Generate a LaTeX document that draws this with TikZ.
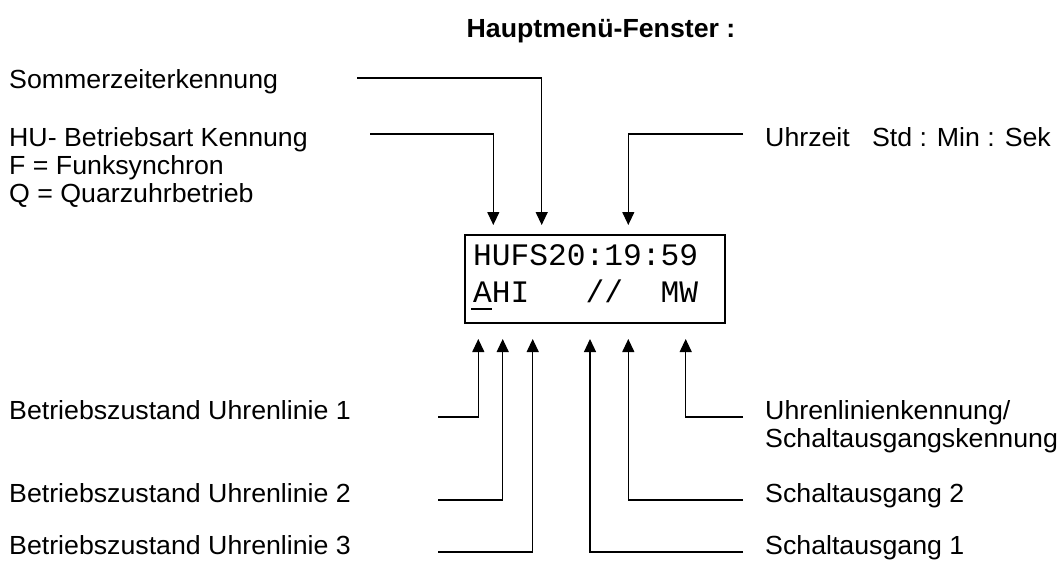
\documentclass[tikz,border=0pt]{standalone}
\usepackage{fontspec}
\setmainfont[FakeStretch=1.02]{Liberation Sans}
\newfontfamily\dispfont{Liberation Mono}
\usetikzlibrary{arrows.meta}
\begin{document}
\begin{tikzpicture}[x=1pt,y=-1pt,
  lbl/.style={anchor=base west,inner sep=0pt,font=\fontsize{26.2}{29}\selectfont},
  ttl/.style={anchor=base,inner sep=0pt,font=\fontsize{26.2}{29}\selectfont\bfseries},
  disptext/.style={anchor=base west,inner sep=0pt,font=\dispfont\fontsize{31.25}{37}\selectfont},
  conn/.style={line width=1.2pt,-{Triangle[width=12pt,length=13pt]}},
  dispbox/.style={draw,line width=2.2pt,minimum width=260pt,minimum height=88pt,inner sep=0pt}]
\useasboundingbox (0,0) rectangle (1059,562);
% title
\node[ttl] (title) at (601,37) {Hauptmenü-Fenster :};
% display
\node[dispbox] (disp) at (595,279) {};
\node[disptext] (row1) at (473,265) {HUFS20:19:59};
\node[disptext] (row2) at (473,302) {AHI\ \ \ //\ \ MW};
\draw[line width=2pt] (471,309) -- (492,309);
% labels top
\node[lbl] (som) at (9,88) {Sommerzeiterkennung};
\node[lbl] (hu) at (9,146) {HU- Betriebsart Kennung};
\node[lbl] (hu2) at (9,174) {F = Funksynchron};
\node[lbl] (hu3) at (9,202) {Q = Quarzuhrbetrieb};
\node[lbl] (uhr) at (765,146) {Uhrzeit\hspace{0.85em}Std : Min : Sek};
% labels bottom left
\node[lbl] (b1) at (9,419) {Betriebszustand Uhrenlinie 1};
\node[lbl] (b2) at (9,502) {Betriebszustand Uhrenlinie 2};
\node[lbl] (b3) at (9,554) {Betriebszustand Uhrenlinie 3};
% labels bottom right
\node[lbl] (uk) at (765,419) {Uhrenlinienkennung/};
\node[lbl] (uk2) at (765,447) {Schaltausgangskennung};
\node[lbl] (s2) at (765,502) {Schaltausgang 2};
\node[lbl] (s1) at (765,554) {Schaltausgang 1};
% connector coordinates
\coordinate (somS) at (357,78);
\coordinate (somT) at (541.7,225);
\coordinate (huS) at (370,134);
\coordinate (huT) at (493.3,225);
\coordinate (uhrS) at (743,134);
\coordinate (uhrT) at (628.3,225);
\coordinate (b1S) at (438,417);
\coordinate (b1T) at (478.3,339);
\coordinate (b2S) at (438,500);
\coordinate (b2T) at (502.7,339);
\coordinate (b3S) at (438,552);
\coordinate (b3T) at (532.7,339);
\coordinate (s1S) at (743,552);
\coordinate (s1T) at (590,339);
\coordinate (s2S) at (743,500);
\coordinate (s2T) at (628.3,339);
\coordinate (ukS) at (743,417);
\coordinate (ukT) at (685.7,339);
% connectors
\draw[conn] (somS) -| (somT);
\draw[conn] (huS) -| (huT);
\draw[conn] (uhrS) -| (uhrT);
\draw[conn] (b1S) -| (b1T);
\draw[conn] (b2S) -| (b2T);
\draw[conn] (b3S) -| (b3T);
\draw[conn] (s1S) -| (s1T);
\draw[conn] (s2S) -| (s2T);
\draw[conn] (ukS) -| (ukT);
\end{tikzpicture}
\end{document}
